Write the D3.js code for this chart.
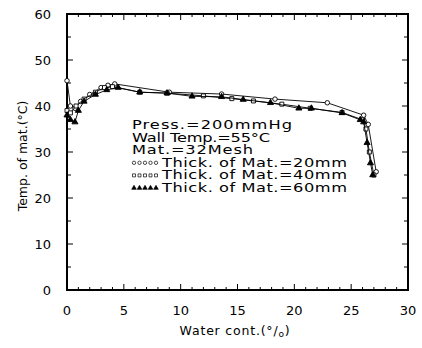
<!DOCTYPE html>
<html><head><meta charset="utf-8">
<script src="https://cdn.jsdelivr.net/npm/d3@7"></script>
<style>body{margin:0;background:#fff}svg{display:block}text{font-family:"DejaVu Sans",sans-serif;fill:#000}</style>
</head><body><svg id="c" width="422" height="348"></svg>
<script>
// Series: Thick. of Mat. = 20 mm (open circles)
const x20 = [0, 0.3, 0.7, 1.2, 2, 3, 3.6, 4.2, 9, 13.6, 18.3, 22.9, 26.1, 26.5, 27.2];
const t20 = [45.5, 40, 39.5, 41, 42.5, 44, 44.5, 44.8, 43, 42.6, 41.5, 40.7, 38, 36, 25.7];
// Series: Thick. of Mat. = 40 mm (open squares)
const x40 = [0, 0.3, 0.8, 1.5, 2.5, 3.3, 4, 6.4, 8.8, 12, 14.5, 16.4, 18.9, 21.4, 24.2, 26, 26.3, 26.6, 27];
const t40 = [39, 38.5, 40, 41.5, 43, 44, 44.2, 43, 42.8, 42.2, 41.6, 41.1, 40.4, 39.5, 38.6, 37, 35, 30, 25];
// Series: Thick. of Mat. = 60 mm (triangles)
const x60 = [0, 0.3, 0.7, 1, 1.5, 2.5, 3.5, 4.5, 6.4, 8.8, 11, 13.6, 15.5, 17.9, 20.4, 21.5, 24.2, 25.8, 26.1, 26.4, 26.7, 26.9];
const t60 = [38, 37, 36.5, 39, 41, 42.5, 43.5, 44, 43, 42.8, 42.1, 42, 41.4, 40.7, 39.5, 39.5, 38.5, 37, 36.5, 32, 27.6, 25];
const xTicks = [0, 5, 10, 15, 20, 25, 30];
const yTicks = [0, 10, 20, 30, 40, 50, 60];
const legendLines = ["Press.=200mmHg", "Wall Temp.=55°C", "Mat.=32Mesh"];
const seriesLabels = ["Thick. of Mat.=20mm", "Thick. of Mat.=40mm", "Thick. of Mat.=60mm"];

const svg = d3.select("#c");
const L = 67, R = 408, T = 14, B = 290;
const x = d3.scaleLinear().domain([0, 30]).range([L, R]);
const y = d3.scaleLinear().domain([0, 60]).range([B, T]);

// frame
svg.append("rect").attr("x", L).attr("y", T).attr("width", R - L).attr("height", B - T)
  .attr("fill", "none").attr("stroke", "#000").attr("stroke-width", 2);

// ticks (inward), all four sides
const g = svg.append("g").attr("stroke", "#000").attr("stroke-width", 1);
d3.range(0, 31, 1).forEach(v => {
  const len = v % 5 === 0 ? 6 : 3;
  g.append("line").attr("x1", x(v)).attr("x2", x(v)).attr("y1", B).attr("y2", B - len);
  g.append("line").attr("x1", x(v)).attr("x2", x(v)).attr("y1", T).attr("y2", T + len);
});
d3.range(0, 61, 5).forEach(v => {
  const len = v % 10 === 0 ? 6 : 4;
  g.append("line").attr("y1", y(v)).attr("y2", y(v)).attr("x1", L).attr("x2", L + len);
  g.append("line").attr("y1", y(v)).attr("y2", y(v)).attr("x1", R).attr("x2", R - len);
});

// tick labels
svg.selectAll(".xl").data(xTicks).join("text").attr("class", "xl")
  .attr("x", d => x(d)).attr("y", 315).attr("text-anchor", "middle").attr("font-size", 13).text(d => d);
svg.selectAll(".yl").data(yTicks).join("text").attr("class", "yl")
  .attr("x", 51).attr("y", d => y(d) + 5).attr("text-anchor", "end").attr("font-size", 13).text(d => d);

// axis titles
const xt = svg.append("text").attr("x", 235).attr("y", 335).attr("text-anchor", "middle")
  .attr("font-size", 12.5).attr("letter-spacing", 0.8);
xt.append("tspan").text("Water cont.(°/");
xt.append("tspan").attr("font-size", 9).attr("dy", 2).text("o");
xt.append("tspan").attr("dy", -2).text(")");
svg.append("text").attr("transform", "translate(27,156) rotate(-90)").attr("text-anchor", "middle")
  .attr("font-size", 12.5).text("Temp. of mat.(°C)");

// series
const line = d3.line().x(d => x(d[0])).y(d => y(d[1]));
const series = [
  {xs: x20, ts: t20, type: "circle", fill: "#fff"},
  {xs: x40, ts: t40, type: "square", fill: "#fff"},
  {xs: x60, ts: t60, type: "triangle", fill: "#000"}
];
const sym = {circle: d3.symbolCircle, square: d3.symbolSquare, triangle: d3.symbolTriangle};
series.forEach(s => {
  const pts = s.xs.map((v, i) => [v, s.ts[i]]);
  svg.append("path").attr("d", line(pts)).attr("fill", "none").attr("stroke", "#000").attr("stroke-width", 0.9);
  svg.selectAll(null).data(pts).join("path")
    .attr("transform", d => `translate(${x(d[0])},${y(d[1])})`)
    .attr("d", d3.symbol().type(sym[s.type]).size(16))
    .attr("fill", s.fill).attr("stroke", "#000").attr("stroke-width", 0.9);
});

// legend
const lx = 132, ly0 = 129, dy = 12.6, sx = 1.3;
const lens = [160, 138, 121];
function wideText(px, py, str, len) {
  svg.append("text").attr("transform", `translate(${px},${py}) scale(${sx},1)`)
    .attr("font-size", 12.5).attr("textLength", len / sx).attr("lengthAdjust", "spacing").text(str);
}
legendLines.forEach((t, i) => wideText(lx, ly0 + i * dy, t, lens[i]));
series.forEach((s, i) => {
  const yy = ly0 + (i + 3) * dy - 4;
  d3.range(5).forEach(k => {
    svg.append("path").attr("transform", `translate(${lx + 2 + k * 5.5},${yy})`)
      .attr("d", d3.symbol().type(sym[s.type]).size(9))
      .attr("fill", s.fill).attr("stroke", "#000").attr("stroke-width", 0.7);
  });
  wideText(162, ly0 + (i + 3) * dy, seriesLabels[i], 185);
});
</script></body></html>
